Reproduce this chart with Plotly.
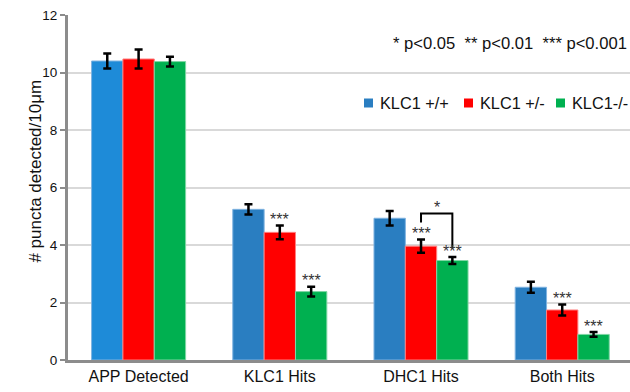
import plotly.graph_objects as go

categories = ["APP Detected", "KLC1 Hits", "DHC1 Hits", "Both Hits"]
series_names = ["KLC1 +/+", "KLC1 +/-", "KLC1-/-"]
wt_values = [10.40, 5.24, 4.93, 2.53]
het_values = [10.47, 4.44, 3.96, 1.74]
ko_values = [10.38, 2.38, 3.46, 0.89]
wt_err = [0.26, 0.18, 0.25, 0.19]
het_err = [0.33, 0.24, 0.23, 0.19]
ko_err = [0.17, 0.17, 0.12, 0.08]
het_sig = ["", "***", "***", "***"]
ko_sig = ["", "***", "***", "***"]
bracket_sig = "*"          # between KLC1 +/- and KLC1-/- in DHC1 Hits
bracket_cat = 2
y_ticks = [0, 2, 4, 6, 8, 10, 12]

colors = ["#2a7ec1", "#ff0000", "#00b050"]
first_blue = "#1e8bd8"
edge = ["#7fb3e0", "#ff8080", "#7fd6a4"]

W, H = 630, 392
ML, MR, MT, MB = 68, 0, 15, 32
PW, PH = W - ML - MR, H - MT - MB

bargap = 0.334
n_series = 3
bar_w = (1 - bargap) / n_series

fig = go.Figure()
vals = [wt_values, het_values, ko_values]
errs = [wt_err, het_err, ko_err]
for k in range(n_series):
    mc = [colors[k]] * len(categories)
    if k == 0:
        mc[0] = first_blue
    fig.add_trace(go.Bar(
        x=list(range(len(categories))), y=vals[k], name=series_names[k],
        marker=dict(color=mc, line=dict(color=edge[k], width=1)),
        error_y=dict(type="data", array=errs[k], color="black", thickness=2.5, width=4),
        showlegend=False,
    ))

# significance stars
for k, sig in ((1, het_sig), (2, ko_sig)):
    off = (k - 1) * bar_w
    for i, s in enumerate(sig):
        if s:
            fig.add_annotation(x=i + off, y=vals[k][i] + errs[k][i], text=s,
                               showarrow=False, yanchor="middle", yshift=6,
                               font=dict(size=16, color="#333333"))

# bracket
xl = bracket_cat
xr = bracket_cat + bar_w
ytop = 5.1
yl = 4.78
yr = 3.88
fig.add_shape(type="path",
              path=f"M {xl} {yl} L {xl} {ytop} L {xr} {ytop} L {xr} {yr}",
              line=dict(color="black", width=2))
fig.add_annotation(x=(xl + xr) / 2, y=ytop, text=bracket_sig, showarrow=False,
                   yanchor="middle", yshift=6, font=dict(size=16, color="#333333"))

# legend drawn as keys + labels (pixel layout converted to paper coords)
def px_x(p):
    return (p - ML) / PW

def px_y(p):
    return (H - MB - p) / PH

legend_key_px = [368.5, 468.5, 560.5]
legend_row_px = 103
half = 4.5
for k in range(n_series):
    cx = legend_key_px[k]
    fig.add_shape(type="rect", xref="paper", yref="paper",
                  x0=px_x(cx - half), x1=px_x(cx + half),
                  y0=px_y(legend_row_px + half), y1=px_y(legend_row_px - half),
                  fillcolor=colors[k], line=dict(width=0))
    fig.add_annotation(xref="paper", yref="paper", x=px_x(cx + 9), y=px_y(legend_row_px),
                       xanchor="left", yanchor="middle", showarrow=False,
                       text=series_names[k], font=dict(size=16.3, color="#111111"))

fig.add_annotation(xref="paper", yref="paper", x=0.998, y=0.916, xanchor="right",
                   yanchor="middle", showarrow=False,
                   text="* p&lt;0.05  ** p&lt;0.01  *** p&lt;0.001",
                   font=dict(size=16.6, color="#111111"))

fig.add_annotation(xref="paper", yref="paper", x=-0.078, y=0.548, textangle=-90,
                   showarrow=False, text="# puncta detected/10μm",
                   font=dict(size=17, color="#111111"))

fig.update_layout(
    width=W, height=H,
    margin=dict(l=ML, r=MR, t=MT, b=MB, autoexpand=False),
    paper_bgcolor="white", plot_bgcolor="white",
    barmode="group", bargap=bargap, bargroupgap=0,
    showlegend=False,
    font=dict(family="Liberation Sans, Arial, sans-serif", color="#111111"),
    xaxis=dict(tickmode="array", tickvals=list(range(len(categories))),
               ticktext=categories, range=[-0.5, 3.48], showgrid=False,
               showline=True, linecolor="#8c8c8c", linewidth=3, ticks="",
               tickfont=dict(size=16), zeroline=False),
    yaxis=dict(range=[0, 12], tickvals=y_ticks, showgrid=True, gridcolor="#d9d9d9",
               gridwidth=2, showline=True, linecolor="#8c8c8c", linewidth=3,
               ticks="outside", ticklen=5, tickwidth=2, tickcolor="#8c8c8c",
               tickfont=dict(size=13.5), zeroline=False),
)

fig.write_html("out.html", config={"displayModeBar": False},
               post_script="document.body.style.margin='0';")
